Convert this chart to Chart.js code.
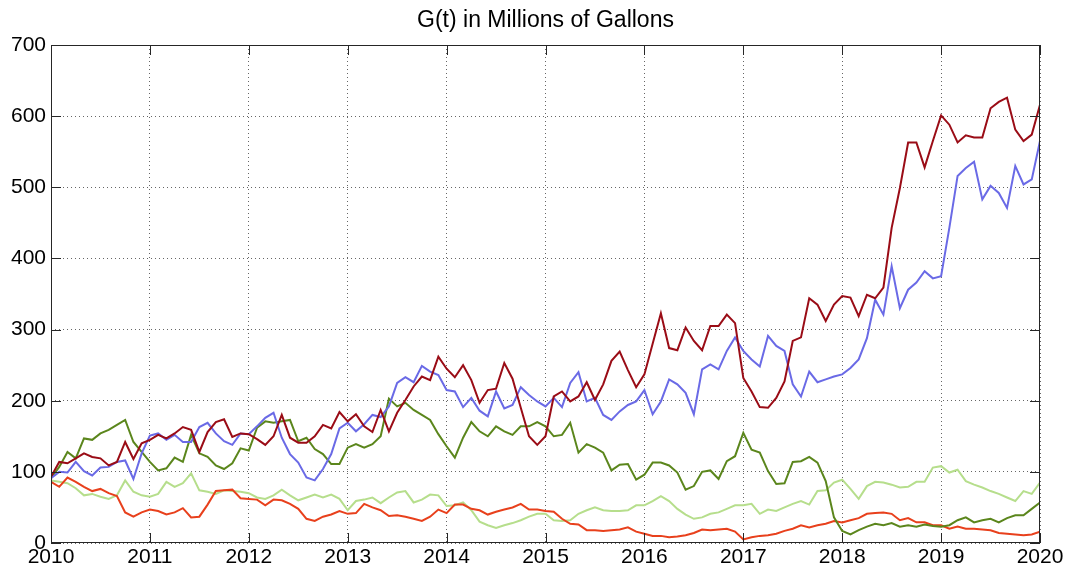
<!DOCTYPE html>
<html>
<head>
<meta charset="utf-8">
<title>G(t) in Millions of Gallons</title>
<script src="https://cdn.jsdelivr.net/npm/chart.js@4/dist/chart.umd.min.js"></script>
<style>
    html, body { margin: 0; padding: 0; background: #fff; }
    #chart { display: block; }
</style>
</head>
<body>
<canvas id="chart" width="1077" height="571"></canvas>
<script>
// monthly values, Jan 2010 .. Jan 2020 (121 points each)
const startYear = 2010;
const yearTicks = [2010, 2011, 2012, 2013, 2014, 2015, 2016, 2017, 2018, 2019, 2020];
const valueTicks = [0, 100, 200, 300, 400, 500, 600, 700];

const darkRed = [
    93, 114, 112, 119, 126, 121, 119, 109, 114, 142, 118, 140,
    145, 152, 147, 154, 163, 159, 128, 156, 170, 174, 149, 154,
    153, 146, 138, 150, 180, 148, 141, 141, 150, 166, 161, 184,
    171, 181, 164, 156, 187, 157, 183, 201, 220, 234, 229, 262,
    245, 233, 250, 229, 197, 215, 217, 253, 231, 190, 150, 138,
    150, 206, 213, 199, 206, 226, 201, 223, 256, 269, 243, 219,
    237, 280, 323, 274, 271, 303, 284, 271, 305, 305, 321, 309,
    232, 213, 191, 190, 204, 227, 284, 289, 344, 335, 312, 335,
    347, 345, 319, 349, 344, 359, 443, 499, 563, 563, 528, 565,
    601, 588, 563, 573, 570, 570, 611, 620, 626, 581, 565, 574,
    616
];
const blue = [
    91, 100, 99, 114, 101, 95, 106, 107, 114, 116, 90, 126,
    151, 154, 145, 152, 142, 142, 163, 169, 154, 143, 138, 154,
    153, 164, 176, 183, 148, 125, 113, 92, 88, 104, 125, 161,
    169, 157, 167, 180, 177, 192, 225, 233, 226, 249, 241, 236,
    215, 213, 191, 204, 186, 178, 213, 189, 194, 219, 208, 199,
    192, 204, 191, 225, 240, 199, 204, 180, 173, 185, 194, 199,
    215, 181, 199, 230, 223, 211, 181, 244, 251, 244, 270, 289,
    270, 258, 248, 291, 277, 270, 223, 206, 241, 226, 230, 234,
    237, 246, 258, 288, 342, 321, 389, 330, 356, 366, 382, 372,
    375, 443, 516, 527, 536, 483, 502, 492, 471, 530, 504, 511,
    565
];
const olive = [
    91, 107, 128, 119, 147, 145, 154, 159, 166, 173, 142, 128,
    114, 102, 105, 120, 114, 152, 126, 121, 109, 104, 112, 133,
    130, 162, 171, 169, 171, 173, 143, 148, 132, 125, 111, 111,
    134, 139, 134, 139, 150, 203, 192, 197, 187, 180, 173, 153,
    136, 120, 148, 170, 157, 150, 164, 157, 152, 164, 164, 170,
    164, 150, 152, 169, 127, 139, 134, 127, 102, 110, 111, 89,
    96, 113, 113, 109, 99, 75, 80, 100, 102, 90, 115, 122,
    155, 131, 127, 101, 83, 84, 114, 115, 121, 113, 87, 36,
    17, 12, 18, 23, 27, 25, 28, 23, 25, 23, 26, 24,
    23, 25, 32, 36, 29, 32, 34, 29, 35, 39, 39, 48,
    57
];
const lightGreen = [
    88, 86, 84, 77, 67, 69, 65, 62, 67, 88, 72, 67,
    65, 69, 86, 79, 84, 98, 74, 72, 69, 74, 73, 72,
    70, 64, 62, 67, 75, 67, 60, 64, 68, 64, 68, 62,
    46, 59, 61, 64, 56, 64, 71, 73, 57, 61, 68, 67,
    52, 53, 57, 46, 30, 25, 21, 25, 28, 32, 37, 41,
    41, 32, 31, 32, 41, 46, 50, 46, 45, 45, 46, 53,
    53, 59, 66, 59, 48, 40, 34, 36, 41, 43, 48, 53,
    53, 55, 41, 47, 45, 50, 55, 59, 54, 73, 74, 85,
    89, 76, 62, 80, 86, 85, 82, 78, 79, 86, 86, 106,
    108, 99, 103, 87, 82, 78, 73, 69, 64, 59, 73, 69,
    85
];
const orange = [
    86, 79, 92, 86, 79, 73, 76, 70, 66, 43, 37, 43,
    47, 45, 40, 43, 49, 36, 37, 54, 73, 74, 75, 63,
    62, 61, 53, 61, 60, 55, 48, 34, 31, 37, 40, 45,
    41, 42, 55, 50, 46, 38, 39, 37, 34, 31, 37, 47,
    42, 54, 54, 48, 46, 40, 44, 47, 50, 55, 47, 47,
    45, 44, 34, 27, 26, 18, 18, 17, 18, 19, 22, 16,
    13, 10, 10, 8, 9, 11, 14, 19, 18, 19, 20, 16,
    5, 8, 10, 11, 13, 17, 20, 25, 22, 25, 27, 31,
    29, 32, 35, 41, 42, 43, 41, 32, 35, 29, 29, 25,
    25, 20, 23, 20, 20, 19, 18, 14, 13, 12, 11, 12,
    16
];

const FONT = "'Liberation Sans', Arial, Helvetica, sans-serif";
const TICK_LEN = 10;

// pair each monthly value with its time in years
function toPoints(values) {
    return values.map((v, i) => ({ x: startYear + i / 12, y: v }));
}

function series(values, color) {
    return {
        data: toPoints(values),
        borderColor: color,
        borderWidth: 2,
        pointRadius: 0,
        tension: 0,
        fill: false
    };
}

// matlab style box with inward ticks on all four sides
const boxPlugin = {
    id: 'boxPlugin',
    afterDatasetsDraw(chart) {
        const { ctx, chartArea: a, scales } = chart;
        ctx.save();
        ctx.strokeStyle = '#262626';
        ctx.lineWidth = 1;
        ctx.beginPath();
        scales.x.ticks.forEach(t => {
            const px = Math.round(scales.x.getPixelForValue(t.value)) + 0.5;
            ctx.moveTo(px, a.bottom); ctx.lineTo(px, a.bottom - TICK_LEN);
            ctx.moveTo(px, a.top); ctx.lineTo(px, a.top + TICK_LEN);
        });
        scales.y.ticks.forEach(t => {
            const py = Math.round(scales.y.getPixelForValue(t.value)) + 0.5;
            ctx.moveTo(a.left, py); ctx.lineTo(a.left + TICK_LEN, py);
            ctx.moveTo(a.right, py); ctx.lineTo(a.right - TICK_LEN, py);
        });
        ctx.stroke();
        ctx.strokeRect(Math.round(a.left) + 0.5, Math.round(a.top) + 0.5,
            Math.round(a.width) - 1, Math.round(a.height) - 1);
        ctx.restore();
    }
};

document.addEventListener('DOMContentLoaded', () => {
    const ctx = document.getElementById('chart').getContext('2d');
    new Chart(ctx, {
        type: 'line',
        data: {
            datasets: [
                series(darkRed, '#9a0c16'),
                series(blue, '#6a6ae6'),
                series(olive, '#5b861c'),
                series(orange, '#e8401c'),
                series(lightGreen, '#b6de8c')
            ]
        },
        options: {
            responsive: false,
            animation: false,
            devicePixelRatio: 1,
            layout: { padding: { left: 0, right: 37, top: 0, bottom: 0 } },
            plugins: {
                legend: { display: false },
                tooltip: { enabled: false },
                title: {
                    display: true,
                    text: 'G(t) in Millions of Gallons',
                    fullSize: false,
                    color: '#000',
                    font: { family: FONT, size: 23, weight: 'normal' },
                    padding: { top: 7.2, bottom: 10.2 }
                }
            },
            scales: {
                x: {
                    type: 'linear',
                    min: startYear,
                    max: yearTicks[yearTicks.length - 1],
                    afterBuildTicks: scale => { scale.ticks = yearTicks.map(v => ({ value: v })); },
                    afterFit: scale => { scale.height = 28; },
                    grid: { color: 'rgba(0,0,0,0.6)', lineWidth: 1, drawTicks: false },
                    border: { display: false, dash: [1, 3] },
                    ticks: {
                        color: '#000',
                        padding: 2,
                        maxRotation: 0,
                        font: { family: FONT, size: 21 },
                        callback: v => String(v)
                    }
                },
                y: {
                    min: valueTicks[0],
                    max: valueTicks[valueTicks.length - 1],
                    afterBuildTicks: scale => { scale.ticks = valueTicks.map(v => ({ value: v })); },
                    afterFit: scale => { scale.width = 51; },
                    grid: { color: 'rgba(0,0,0,0.6)', lineWidth: 1, drawTicks: false },
                    border: { display: false, dash: [1, 3] },
                    ticks: {
                        color: '#000',
                        padding: 5,
                        font: { family: FONT, size: 21 },
                        callback: v => String(v)
                    }
                }
            }
        },
        plugins: [boxPlugin]
    });
});
</script>
</body>
</html>
